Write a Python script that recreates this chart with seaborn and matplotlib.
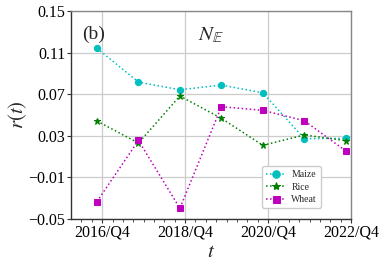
import numpy as np
import pandas as pd
import seaborn as sns
import matplotlib
matplotlib.use("Agg")
import matplotlib.pyplot as plt
from matplotlib.ticker import FixedLocator

# data: one point per year (Q4), x measured in quarters
quarters = [0, 4, 8, 12, 16, 20, 24]
maize = [0.1142, 0.0817, 0.0743, 0.0788, 0.0714, 0.0272, 0.0276]
rice = [0.0442, 0.0230, 0.0683, 0.0468, 0.0208, 0.0308, 0.0253]
wheat = [-0.0333, 0.0255, -0.0398, 0.0580, 0.0545, 0.0445, 0.0154]
tick_labels = ["2016/Q4", "2018/Q4", "2020/Q4", "2022/Q4"]

sns.set_style("whitegrid")
plt.rcParams['font.family'] = ['Liberation Serif', 'DejaVu Serif']
plt.rcParams['mathtext.fontset'] = 'stix'

fig = plt.figure(figsize=(3.84, 2.65), dpi=100)
ax = fig.add_axes([0.185, 0.174, 0.729, 0.784])

series = [("Maize", maize, "c", "o", 4.5),
          ("Rice", rice, "g", "*", 5.0),
          ("Wheat", wheat, "m", "s", 4.2)]
for name, vals, col, mk, ms in series:
    sns.lineplot(x=quarters, y=vals, ax=ax, color=col, marker=mk, markersize=ms,
                 markeredgecolor=col, linestyle=":", linewidth=1.1, label=name)

ax.set_xlim(-2.5, 24.5)
ax.set_ylim(-0.05, 0.15)
ax.xaxis.set_major_locator(FixedLocator([0.5, 8.5, 16.5, 24.5]))
ax.xaxis.set_minor_locator(FixedLocator(np.arange(-1.5, 24.5, 1)))
ax.set_xticklabels(tick_labels)
ax.set_yticks([-0.05, -0.01, 0.03, 0.07, 0.11, 0.15])
ax.set_yticklabels(["\u22120.05", "\u22120.01", "0.03", "0.07", "0.11", "0.15"])
ax.tick_params(axis="both", which="major", labelsize=11.5, direction="out",
               length=3, width=0.8, colors="#333333", labelcolor="black", pad=1,
               left=True, bottom=True)
ax.tick_params(axis="x", which="minor", direction="out", length=2, width=0.6,
               colors="#333333", bottom=True)
ax.grid(True, which="major", color="#cccccc", linewidth=0.9)

for side in ["left", "bottom"]:
    ax.spines[side].set_color("#333333")
    ax.spines[side].set_linewidth(1.0)
for side in ["top", "right"]:
    ax.spines[side].set_color("#888888")
    ax.spines[side].set_linewidth(1.0)

ax.set_xlabel("$t$", fontsize=15, labelpad=2)
ax.set_ylabel("$r(t)$", fontsize=15, labelpad=0)
ax.text(0.04, 0.93, "(b)", transform=ax.transAxes, fontsize=14, va="top", ha="left")
ax.text(0.5, 0.93, r"$N_{\mathbb{E}}$", transform=ax.transAxes, fontsize=15,
        va="top", ha="center")

ax.legend(loc="lower right", bbox_to_anchor=(0.91, 0.03), fontsize=7,
          frameon=True, handlelength=2.0, borderpad=0.4, labelspacing=0.35,
          handletextpad=0.6, edgecolor="#cccccc", framealpha=1, markerscale=1.2)

fig.savefig("out.png", dpi=100)
